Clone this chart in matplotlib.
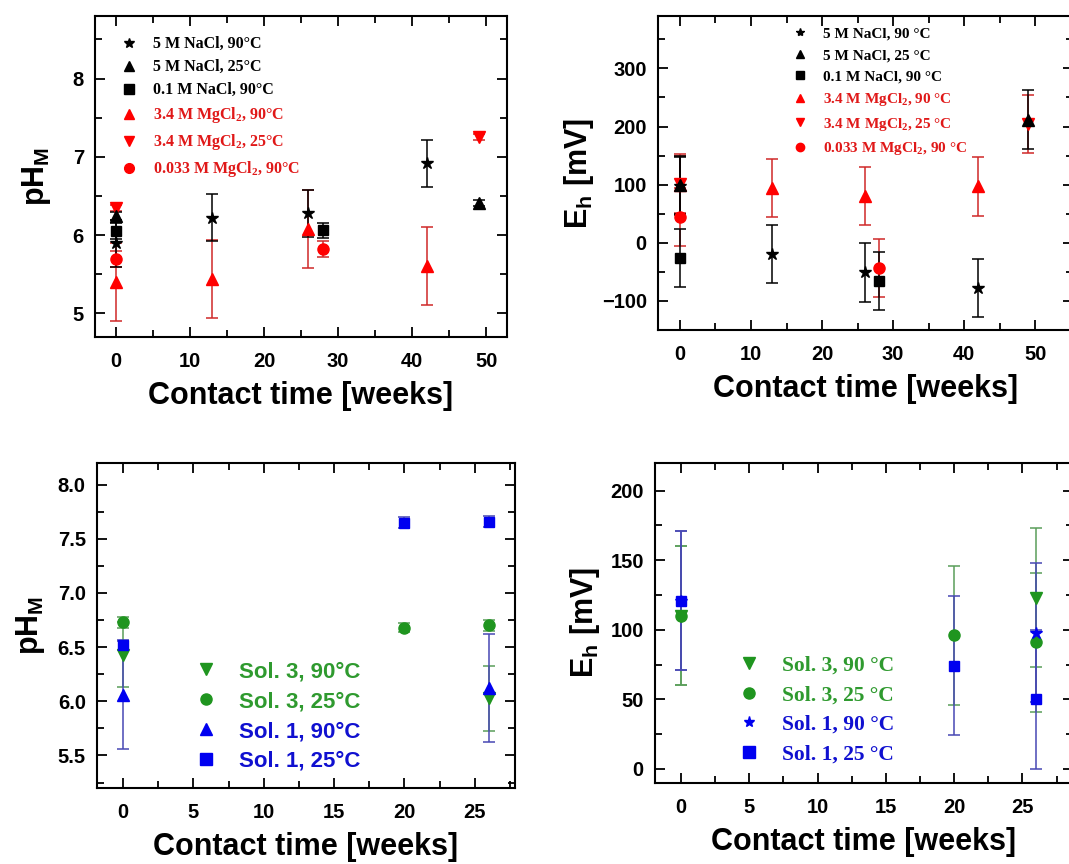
import numpy as np
import matplotlib
matplotlib.use("Agg")
import matplotlib.pyplot as plt
from matplotlib.lines import Line2D
from matplotlib.ticker import MultipleLocator
from matplotlib.font_manager import FontProperties

plt.rcParams['font.family'] = 'Liberation Sans'
plt.rcParams['font.weight'] = 'bold'
plt.rcParams['mathtext.default'] = 'regular'

# ---- pH_M, NaCl / MgCl2 systems (weeks, value, error) ----
ph_nacl5_90_t = [0, 13, 26, 42]
ph_nacl5_90 = [5.90, 6.22, 6.28, 6.92]
ph_nacl5_90_err = [0.3, 0.3, 0.3, 0.3]

ph_nacl5_25_t = [0, 49]
ph_nacl5_25 = [6.24, 6.41]
ph_nacl5_25_err = [0.05, 0.04]

ph_nacl01_90_t = [0, 28]
ph_nacl01_90 = [6.05, 6.06]
ph_nacl01_90_err = [0.1, 0.1]

ph_mg34_90_t = [0, 13, 26, 42]
ph_mg34_90 = [5.40, 5.44, 6.08, 5.61]
ph_mg34_90_err = [0.5, 0.5, 0.5, 0.5]

ph_mg34_25_t = [0, 49]
ph_mg34_25 = [6.35, 7.25]
ph_mg34_25_err = [0.04, 0.04]

ph_mg0033_90_t = [0, 28]
ph_mg0033_90 = [5.70, 5.82]
ph_mg0033_90_err = [0.1, 0.1]

# ---- Eh [mV], NaCl / MgCl2 systems ----
eh_nacl5_90_t = [0, 13, 26, 42]
eh_nacl5_90 = [98, -19, -51, -78]
eh_nacl5_90_err = [50, 50, 50, 50]

eh_nacl5_25_t = [0, 49]
eh_nacl5_25 = [100, 212]
eh_nacl5_25_err = [50, 50]

eh_nacl01_90_t = [0, 28]
eh_nacl01_90 = [-26, -65]
eh_nacl01_90_err = [50, 50]

eh_mg34_90_t = [0, 13, 26, 42]
eh_mg34_90 = [100, 95, 80, 97]
eh_mg34_90_err = [50, 50, 50, 50]

eh_mg34_25_t = [0, 49]
eh_mg34_25 = [102, 204]
eh_mg34_25_err = [50, 50]

eh_mg0033_90_t = [0, 28]
eh_mg0033_90 = [45, -43]
eh_mg0033_90_err = [50, 50]

# ---- pH_M, Sol. 1 / Sol. 3 ----
ph_sol3_90_t = [0, 26]
ph_sol3_90 = [6.43, 6.03]
ph_sol3_90_err = [0.3, 0.3]

ph_sol3_25_t = [0, 20, 26]
ph_sol3_25 = [6.73, 6.68, 6.70]
ph_sol3_25_err = [0.05, 0.04, 0.05]

ph_sol1_90_t = [0, 26]
ph_sol1_90 = [6.06, 6.12]
ph_sol1_90_err = [0.5, 0.5]

ph_sol1_25_t = [0, 20, 26]
ph_sol1_25 = [6.52, 7.65, 7.66]
ph_sol1_25_err = [0.05, 0.05, 0.05]

# ---- Eh [mV], Sol. 1 / Sol. 3 ----
eh_sol3_90_t = [0, 26]
eh_sol3_90 = [110, 123]
eh_sol3_90_err = [50, 50]

eh_sol3_25_t = [0, 20, 26]
eh_sol3_25 = [110, 96, 91]
eh_sol3_25_err = [50, 50, 50]

eh_sol1_90_t = [0, 26]
eh_sol1_90 = [121, 98]
eh_sol1_90_err = [50, 50]

eh_sol1_25_t = [0, 20, 26]
eh_sol1_25 = [121, 74, 50]
eh_sol1_25_err = [50, 50, 50]

labels_top_ph = ["5 M NaCl, 90°C", "5 M NaCl, 25°C", "0.1 M NaCl, 90°C",
                 "3.4 M MgCl$_2$, 90°C", "3.4 M MgCl$_2$, 25°C",
                 "0.033 M MgCl$_2$, 90°C"]
labels_top_eh = ["5 M NaCl, 90 °C", "5 M NaCl, 25 °C", "0.1 M NaCl, 90 °C",
                 "3.4 M MgCl$_2$, 90 °C", "3.4 M MgCl$_2$, 25 °C",
                 "0.033 M MgCl$_2$, 90 °C"]
labels_bot_ph = ["Sol. 3, 90°C", "Sol. 3, 25°C", "Sol. 1, 90°C", "Sol. 1, 25°C"]
labels_bot_eh = ["Sol. 3, 90 °C", "Sol. 3, 25 °C", "Sol. 1, 90 °C", "Sol. 1, 25 °C"]

BLACK = "#000000"
RED = "#ff0000"
RED_ERR = "#d02828"
RED_TXT = "#e01818"
GREEN = "#1f951f"
GREEN_ERR = "#5a9e5a"
GREEN_TXT = "#2f9a2f"
BLUE = "#0000f0"
BLUE_ERR = "#4848b4"
BLUE_TXT = "#1010d0"


def draw_series(ax, t, y, err, marker, color, ecolor, ms=8):
    ax.errorbar(t, y, yerr=err, fmt=marker, color=color, ecolor=ecolor,
                ms=ms, mec=color, elinewidth=1.1, capsize=4, capthick=1.1)


def style_axes(ax, xmaj, xmin, ymaj, ymin):
    ax.xaxis.set_major_locator(MultipleLocator(xmaj))
    ax.xaxis.set_minor_locator(MultipleLocator(xmin))
    ax.yaxis.set_major_locator(MultipleLocator(ymaj))
    ax.yaxis.set_minor_locator(MultipleLocator(ymin))
    ax.tick_params(which='both', direction='in', top=True, right=True,
                   width=1.3, labelsize=14.5)
    ax.tick_params(axis='x', pad=11)
    ax.tick_params(axis='y', pad=8)
    ax.tick_params(which='major', length=7)
    ax.tick_params(which='minor', length=5)
    for sp in ax.spines.values():
        sp.set_linewidth(1.5)
    for lab in ax.get_xticklabels() + ax.get_yticklabels():
        lab.set_fontweight('bold')
    ax.set_xlabel("Contact time [weeks]", fontsize=22, fontweight='bold',
                  labelpad=7)


def add_legend(ax, markers, colors, labels, txtcolors, prop, anchor,
               spacing, ms=8):
    handles = [Line2D([], [], ls='', marker=m, color=c, ms=ms)
               for m, c in zip(markers, colors)]
    ax.legend(handles, labels, loc='upper left', bbox_to_anchor=anchor,
              frameon=False, prop=prop, labelcolor=txtcolors,
              handlelength=0.8, handletextpad=1.1, labelspacing=spacing,
              borderpad=0, borderaxespad=0)


fig = plt.figure(figsize=(10.69, 8.64), dpi=100)

ax1 = fig.add_axes([0.0889, 0.610, 0.3854, 0.3715])
ax2 = fig.add_axes([0.6155, 0.618, 0.3880, 0.3634])
ax3 = fig.add_axes([0.0907, 0.088, 0.3910, 0.3761])
ax4 = fig.add_axes([0.6127, 0.094, 0.3910, 0.3704])

serif_top = FontProperties(family='Liberation Serif', weight='bold', size=11.5)
serif_top2 = FontProperties(family='Liberation Serif', weight='bold', size=11)
sans_bot = FontProperties(family='Liberation Sans', weight='bold', size=16)
serif_bot = FontProperties(family='Liberation Serif', weight='bold', size=15.5)

top_markers = ['*', '^', 's', '^', 'v', 'o']
top_colors = [BLACK, BLACK, BLACK, RED, RED, RED]
top_txt = [BLACK, BLACK, BLACK, RED_TXT, RED_TXT, RED_TXT]

# top left: pH_M
draw_series(ax1, ph_mg34_90_t, ph_mg34_90, ph_mg34_90_err, '^', RED, RED_ERR, 9)
draw_series(ax1, ph_mg34_25_t, ph_mg34_25, ph_mg34_25_err, 'v', RED, RED_ERR, 9)
draw_series(ax1, ph_mg0033_90_t, ph_mg0033_90, ph_mg0033_90_err, 'o', RED, RED_ERR)
draw_series(ax1, ph_nacl5_90_t, ph_nacl5_90, ph_nacl5_90_err, '*', BLACK, BLACK, 9)
draw_series(ax1, ph_nacl5_25_t, ph_nacl5_25, ph_nacl5_25_err, '^', BLACK, BLACK, 8)
draw_series(ax1, ph_nacl01_90_t, ph_nacl01_90, ph_nacl01_90_err, 's', BLACK, BLACK, 7)
ax1.set_xlim(-2.8, 52.8)
ax1.set_ylim(4.7, 8.8)
style_axes(ax1, 10, 5, 1, 0.5)
ax1.set_ylabel("pH$_M$", fontsize=22, fontweight='bold', labelpad=14)
add_legend(ax1, top_markers, top_colors, labels_top_ph, top_txt, serif_top,
           (0.068, 0.937), 0.44, ms=7)

# top right: Eh
draw_series(ax2, eh_mg34_90_t, eh_mg34_90, eh_mg34_90_err, '^', RED, RED_ERR, 9)
draw_series(ax2, eh_mg34_25_t, eh_mg34_25, eh_mg34_25_err, 'v', RED, RED_ERR, 9)
draw_series(ax2, eh_mg0033_90_t, eh_mg0033_90, eh_mg0033_90_err, 'o', RED, RED_ERR)
draw_series(ax2, eh_nacl5_90_t, eh_nacl5_90, eh_nacl5_90_err, '*', BLACK, BLACK, 9)
draw_series(ax2, eh_nacl5_25_t, eh_nacl5_25, eh_nacl5_25_err, '^', BLACK, BLACK, 8)
draw_series(ax2, eh_nacl01_90_t, eh_nacl01_90, eh_nacl01_90_err, 's', BLACK, BLACK, 7)
ax2.set_xlim(-3.1, 55.3)
ax2.set_ylim(-150, 390)
style_axes(ax2, 10, 5, 100, 50)
ax2.set_ylabel("E$_h$ [mV]", fontsize=22, fontweight='bold', labelpad=4)
add_legend(ax2, top_markers, top_colors, labels_top_eh, top_txt, serif_top2,
           (0.328, 0.965), 0.5, ms=6)

# bottom left: pH_M, Sol. 1 / Sol. 3
draw_series(ax3, ph_sol3_90_t, ph_sol3_90, ph_sol3_90_err, 'v', GREEN, GREEN_ERR, 9)
draw_series(ax3, ph_sol1_90_t, ph_sol1_90, ph_sol1_90_err, '^', BLUE, BLUE_ERR, 9)
draw_series(ax3, ph_sol3_25_t, ph_sol3_25, ph_sol3_25_err, 'o', GREEN, GREEN_ERR)
draw_series(ax3, ph_sol1_25_t, ph_sol1_25, ph_sol1_25_err, 's', BLUE, BLUE_ERR, 7)
ax3.set_xlim(-1.85, 27.85)
ax3.set_ylim(5.2, 8.2)
style_axes(ax3, 5, 2.5, 0.5, 0.25)
ax3.set_ylabel("pH$_M$", fontsize=22, fontweight='bold', labelpad=8)
add_legend(ax3, ['v', 'o', '^', 's'], [GREEN, GREEN, BLUE, BLUE], labels_bot_ph,
           [GREEN_TXT, GREEN_TXT, BLUE_TXT, BLUE_TXT], sans_bot,
           (0.24, 0.39), 0.4, ms=8)

# bottom right: Eh, Sol. 1 / Sol. 3
draw_series(ax4, eh_sol3_90_t, eh_sol3_90, eh_sol3_90_err, 'v', GREEN, GREEN_ERR, 9)
draw_series(ax4, eh_sol3_25_t, eh_sol3_25, eh_sol3_25_err, 'o', GREEN, GREEN_ERR)
draw_series(ax4, eh_sol1_90_t, eh_sol1_90, eh_sol1_90_err, '*', BLUE, BLUE_ERR, 9)
draw_series(ax4, eh_sol1_25_t, eh_sol1_25, eh_sol1_25_err, 's', BLUE, BLUE_ERR, 7)
ax4.set_xlim(-1.9, 28.7)
ax4.set_ylim(-10, 220)
style_axes(ax4, 5, 2.5, 50, 25)
ax4.set_ylabel("E$_h$ [mV]", fontsize=22, fontweight='bold', labelpad=6)
add_legend(ax4, ['v', 'o', '*', 's'], [GREEN, GREEN, BLUE, BLUE], labels_bot_eh,
           [GREEN_TXT, GREEN_TXT, BLUE_TXT, BLUE_TXT], serif_bot,
           (0.205, 0.398), 0.45, ms=8)

fig.savefig("out.png", dpi=100)
